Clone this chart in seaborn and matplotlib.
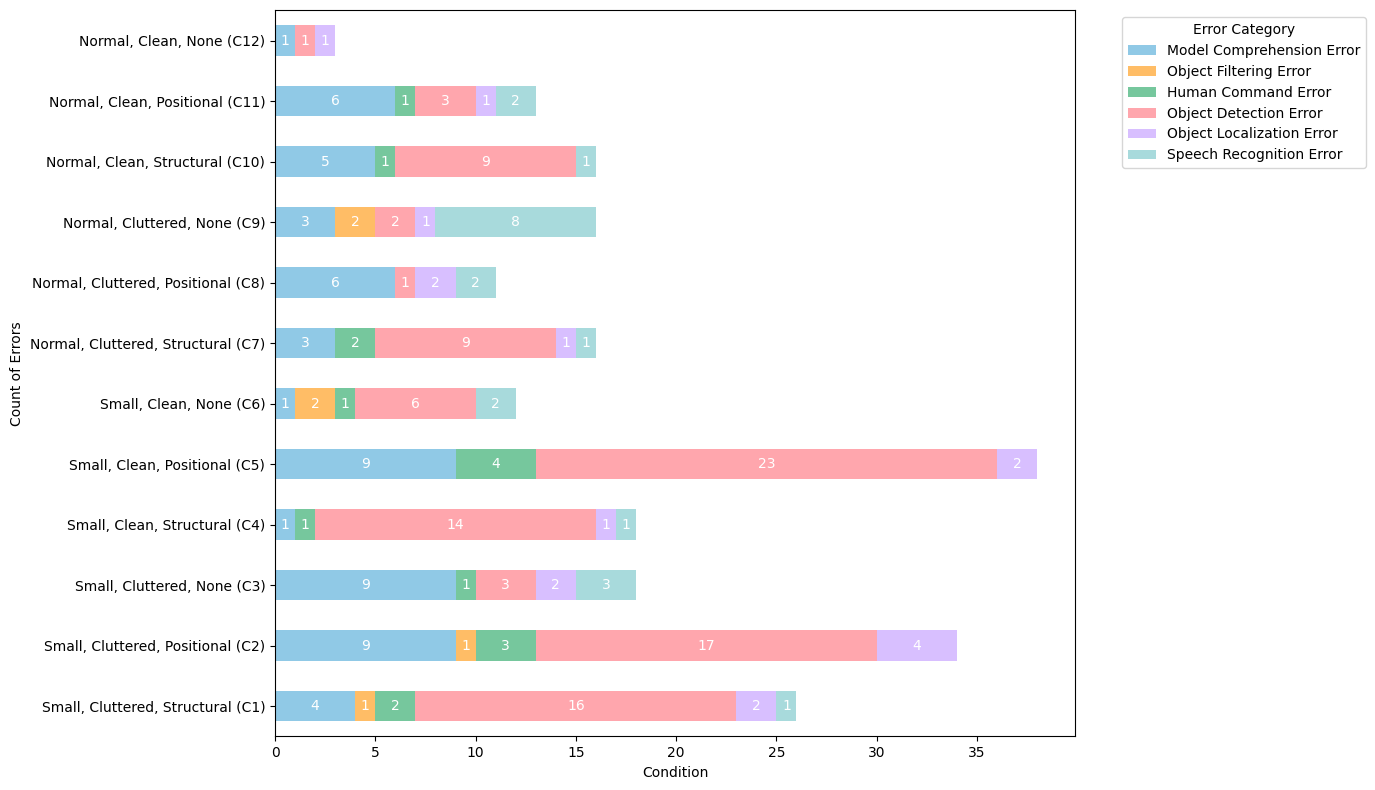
import numpy as np
import pandas as pd
import matplotlib
matplotlib.use("Agg")
import matplotlib.pyplot as plt
from matplotlib.patches import Patch
import seaborn as sns

conditions = [
    "Small, Cluttered, Structural (C1)", "Small, Cluttered, Positional (C2)",
    "Small, Cluttered, None (C3)", "Small, Clean, Structural (C4)",
    "Small, Clean, Positional (C5)", "Small, Clean, None (C6)",
    "Normal, Cluttered, Structural (C7)", "Normal, Cluttered, Positional (C8)",
    "Normal, Cluttered, None (C9)", "Normal, Clean, Structural (C10)",
    "Normal, Clean, Positional (C11)", "Normal, Clean, None (C12)",
]
categories = ["Model Comprehension Error", "Object Filtering Error", "Human Command Error",
              "Object Detection Error", "Object Localization Error", "Speech Recognition Error"]

model_comprehension = [4, 9, 9, 1, 9, 1, 3, 6, 3, 5, 6, 1]
object_filtering = [1, 1, 0, 0, 0, 2, 0, 0, 2, 0, 0, 0]
human_command = [2, 3, 1, 1, 4, 1, 2, 0, 0, 1, 1, 0]
object_detection = [16, 17, 3, 14, 23, 6, 9, 1, 2, 9, 3, 1]
object_localization = [2, 4, 2, 1, 2, 0, 1, 2, 1, 0, 1, 1]
speech_recognition = [1, 0, 3, 1, 0, 2, 1, 2, 8, 1, 2, 0]

colors = ["#90c9e6", "#ffbd66", "#76c79d", "#ffa6ad", "#d8bfff", "#a8dadc"]

df = pd.DataFrame({
    "Condition": conditions,
    categories[0]: model_comprehension,
    categories[1]: object_filtering,
    categories[2]: human_command,
    categories[3]: object_detection,
    categories[4]: object_localization,
    categories[5]: speech_recognition,
})
order = conditions[::-1]

fig, ax = plt.subplots(figsize=(13.75, 7.9))

# stacked bars: draw cumulative totals from the outermost layer inwards
cum = df[categories].cumsum(axis=1)
for i in range(len(categories) - 1, -1, -1):
    sns.barplot(x=cum[categories[i]], y=df["Condition"], order=order, color=colors[i],
                width=0.5, linewidth=0, saturation=1, ax=ax)

# value labels
ypos = {c: k for k, c in enumerate(order)}
for i, cat in enumerate(categories):
    starts = cum[cat] - df[cat]
    for c, v, s in zip(df["Condition"], df[cat], starts):
        if v > 0:
            ax.text(s + v / 2, ypos[c], str(v), ha="center", va="center",
                    color="white", fontsize=10)

ax.set_xlabel("Condition")
ax.set_ylabel("Count of Errors")
ax.set_xlim(0, 39.9)
ax.set_ylim(11.5, -0.5)

handles = [Patch(facecolor=colors[i], label=categories[i]) for i in range(len(categories))]
ax.legend(handles=handles, title="Error Category", bbox_to_anchor=(1.05, 1), loc="upper left")

fig.subplots_adjust(left=0.2, right=0.782, top=0.987, bottom=0.068)
plt.savefig("out.png", dpi=100)
